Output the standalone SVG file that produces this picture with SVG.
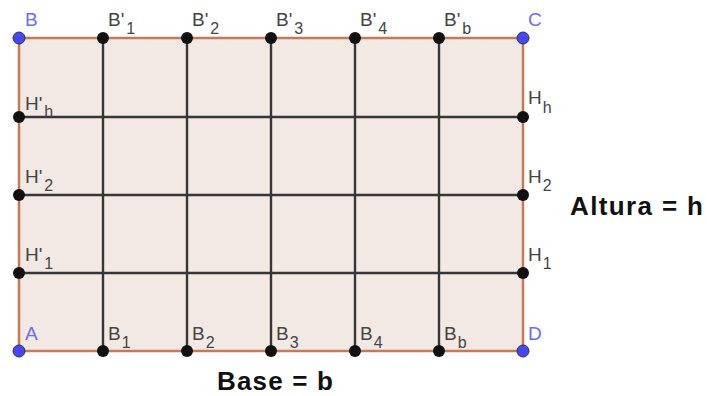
<svg xmlns="http://www.w3.org/2000/svg" width="707" height="396" viewBox="0 0 707 396">
<style>
  .lbl { font-family: "Liberation Sans", Arial, sans-serif; font-size: 19px; fill: #444; }
  .blue { fill: #6a6aff; }
  .sub { font-size: 16px; }
  .title { font-family: "Liberation Sans", Arial, sans-serif; font-size: 26px; font-weight: bold; fill: #111; }
  .grid { stroke: #363636; stroke-width: 2.4; fill: none; }
  .pt { fill: #111; }
  .ptb { fill: #4646ff; stroke: #333; stroke-width: 1; }
</style>
<rect width="707" height="396" fill="#ffffff"/>
<g id="rect">
  <rect x="19" y="38" width="504" height="313" fill="#f3e9e4" stroke="#c47a56" stroke-width="2.5"/>
</g>
<g id="connectors">
  <line class="grid" x1="103" y1="38" x2="103" y2="351"/>
  <line class="grid" x1="187" y1="38" x2="187" y2="351"/>
  <line class="grid" x1="271" y1="38" x2="271" y2="351"/>
  <line class="grid" x1="355" y1="38" x2="355" y2="351"/>
  <line class="grid" x1="439" y1="38" x2="439" y2="351"/>
  <line class="grid" x1="19" y1="117" x2="523" y2="117"/>
  <line class="grid" x1="19" y1="195" x2="523" y2="195"/>
  <line class="grid" x1="19" y1="273" x2="523" y2="273"/>
</g>
<g id="B"><circle class="ptb" cx="19" cy="38" r="6"/><text class="lbl blue" x="25" y="26">B</text></g>
<g id="C"><circle class="ptb" cx="523" cy="38" r="6"/><text class="lbl blue" x="528" y="26">C</text></g>
<g id="A"><circle class="ptb" cx="19" cy="351" r="6"/><text class="lbl blue" x="25" y="340">A</text></g>
<g id="D"><circle class="ptb" cx="523" cy="351" r="6"/><text class="lbl blue" x="528" y="340">D</text></g>

<g id="Bp1"><circle class="pt" cx="103" cy="38" r="6"/><text class="lbl" x="108" y="26">B'<tspan class="sub" dx="2" dy="8">1</tspan></text></g>
<g id="Bp2"><circle class="pt" cx="187" cy="38" r="6"/><text class="lbl" x="192" y="26">B'<tspan class="sub" dx="2" dy="8">2</tspan></text></g>
<g id="Bp3"><circle class="pt" cx="271" cy="38" r="6"/><text class="lbl" x="276" y="26">B'<tspan class="sub" dx="2" dy="8">3</tspan></text></g>
<g id="Bp4"><circle class="pt" cx="355" cy="38" r="6"/><text class="lbl" x="360" y="26">B'<tspan class="sub" dx="2" dy="8">4</tspan></text></g>
<g id="Bpb"><circle class="pt" cx="439" cy="38" r="6"/><text class="lbl" x="444" y="26">B'<tspan class="sub" dx="2" dy="8">b</tspan></text></g>

<g id="B1"><circle class="pt" cx="103" cy="351" r="6"/><text class="lbl" x="108" y="340">B<tspan class="sub" dx="1" dy="8">1</tspan></text></g>
<g id="B2"><circle class="pt" cx="187" cy="351" r="6"/><text class="lbl" x="192" y="340">B<tspan class="sub" dx="1" dy="8">2</tspan></text></g>
<g id="B3"><circle class="pt" cx="271" cy="351" r="6"/><text class="lbl" x="276" y="340">B<tspan class="sub" dx="1" dy="8">3</tspan></text></g>
<g id="B4"><circle class="pt" cx="355" cy="351" r="6"/><text class="lbl" x="360" y="340">B<tspan class="sub" dx="1" dy="8">4</tspan></text></g>
<g id="Bb"><circle class="pt" cx="439" cy="351" r="6"/><text class="lbl" x="444" y="340">B<tspan class="sub" dx="1" dy="8">b</tspan></text></g>

<g id="Hph"><circle class="pt" cx="19" cy="117" r="6"/><text class="lbl" x="25" y="110">H'<tspan class="sub" dx="2" dy="7">h</tspan></text></g>
<g id="Hp2"><circle class="pt" cx="19" cy="195" r="6"/><text class="lbl" x="25" y="183">H'<tspan class="sub" dx="2" dy="8">2</tspan></text></g>
<g id="Hp1"><circle class="pt" cx="19" cy="273" r="6"/><text class="lbl" x="25" y="261">H'<tspan class="sub" dx="2" dy="8">1</tspan></text></g>

<g id="Hh"><circle class="pt" cx="523" cy="117" r="6"/><text class="lbl" x="528" y="104">H<tspan class="sub" dx="1" dy="9">h</tspan></text></g>
<g id="H2"><circle class="pt" cx="523" cy="195" r="6"/><text class="lbl" x="528" y="183">H<tspan class="sub" dx="1" dy="8">2</tspan></text></g>
<g id="H1"><circle class="pt" cx="523" cy="273" r="6"/><text class="lbl" x="528" y="261">H<tspan class="sub" dx="1" dy="8">1</tspan></text></g>

<text class="title" x="217" y="390" textLength="116" lengthAdjust="spacing">Base = b</text>
<text class="title" x="570" y="215" textLength="133" lengthAdjust="spacing">Altura = h</text>
</svg>
